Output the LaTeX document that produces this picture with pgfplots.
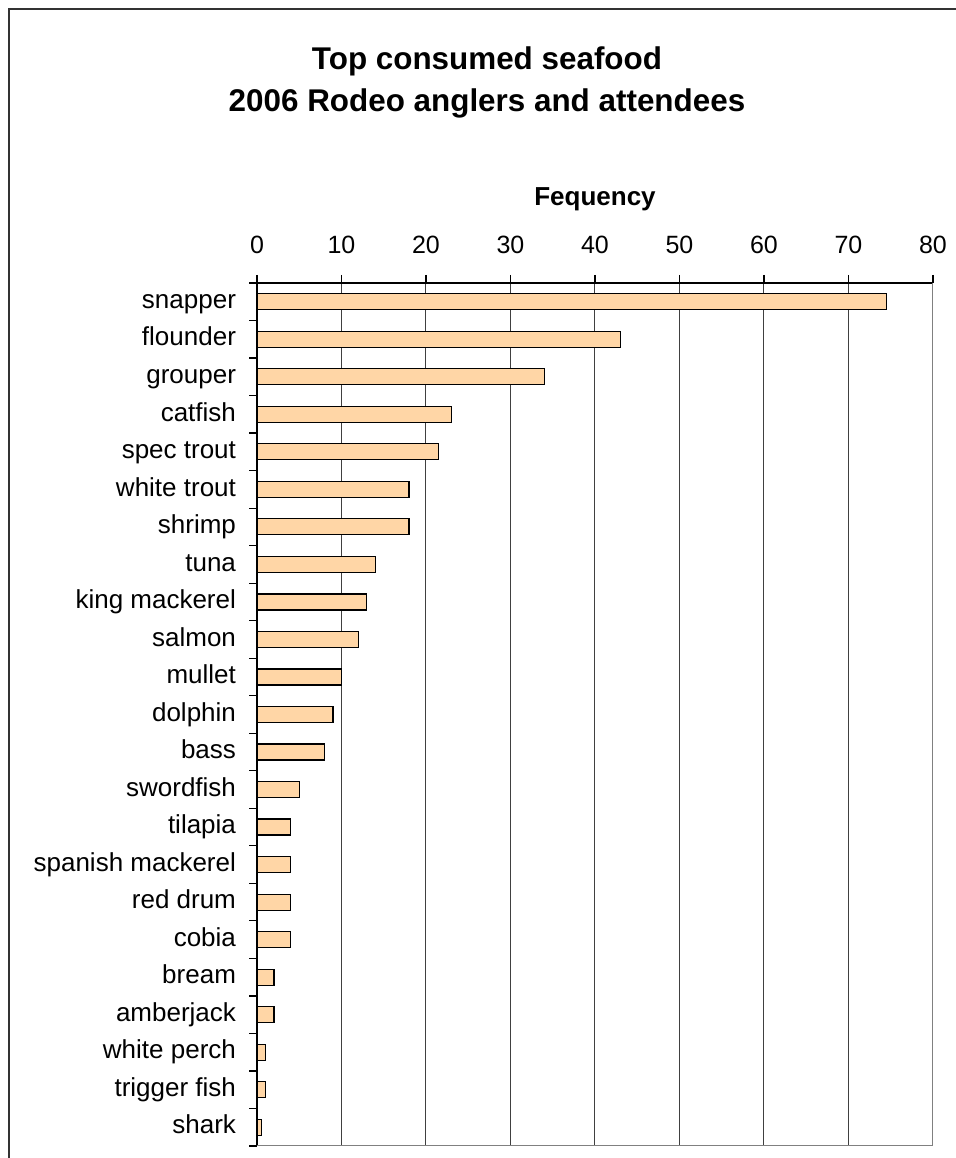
\documentclass[border=0pt]{standalone}
\usepackage{pgfplots}
\pgfplotsset{compat=1.18}
\usepackage{fontspec}
\setmainfont{Liberation Sans}
\definecolor{barfill}{RGB}{255,214,166}
\begin{document}
\begin{tikzpicture}
\path[use as bounding box] (0,0) rectangle (478pt,579pt);
\draw[line width=0.7pt, black!80] (4.5pt,0) -- (4.5pt,574.5pt) -- (478pt,574.5pt);
\node[font=\bfseries\fontsize{15.7}{18}\selectfont] at (243.5pt,548.5pt) {Top consumed seafood};
\node[font=\bfseries\fontsize{15.7}{18}\selectfont] at (243.5pt,527.5pt) {2006 Rodeo anglers and attendees};
\begin{axis}[
  at={(128.5pt,6pt)}, anchor=south west,
  scale only axis, width=338pt, height=431.5pt,
  xbar, bar width=8pt,
  xmin=0, xmax=80, ymin=-0.5, ymax=22.5,
  axis x line*=top, axis y line*=left,
  axis line style={black, line width=0.6pt},
  xtick={0,10,...,80},
  xmajorgrids, grid style={black!75, line width=0.5pt},
  tick align=outside, major tick length=4pt,
  tick style={black, line width=0.6pt},
  ytick={-0.5,0.5,...,22.5},
  yticklabels={shark,trigger fish,white perch,amberjack,bream,cobia,red drum,spanish mackerel,tilapia,swordfish,bass,dolphin,mullet,salmon,king mackerel,tuna,shrimp,white trout,spec trout,catfish,grouper,flounder,snapper,{}},
  yticklabel style={anchor=east, text height=9.5pt, text depth=2.8pt, yshift=9.38pt, xshift=-3pt, font=\fontsize{13}{15}\selectfont},
  xticklabel style={yshift=7pt, font=\fontsize{12.5}{15}\selectfont, /pgf/number format/assume math mode=true},
  xlabel={Fequency},
  xlabel style={font=\bfseries\fontsize{13}{15}\selectfont, at={(0.5,1)}, anchor=center, yshift=42pt},
]
\addplot[fill=barfill, draw=black, line width=0.6pt] coordinates {
(0.5,0) (1,1) (1,2) (2,3) (2,4) (4,5) (4,6) (4,7) (4,8) (5,9) (8,10) (9,11) (10,12) (12,13) (13,14) (14,15) (18,16) (18,17) (21.5,18) (23,19) (34,20) (43,21) (74.5,22)
};
\draw[gray, line width=0.6pt] (rel axis cs:1,1) -- (rel axis cs:1,0) -- (rel axis cs:0,0);
\end{axis}
\end{tikzpicture}
\end{document}
